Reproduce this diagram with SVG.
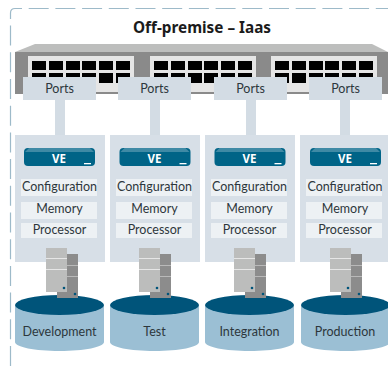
<svg xmlns="http://www.w3.org/2000/svg" width="388" height="366" viewBox="0 0 388 366">
<style>
text{font-family:Lato,"Noto Sans","Liberation Sans",sans-serif;fill:#2d373c;text-anchor:middle;font-size:12.5px}
.title{font-family:"Noto Sans","Liberation Sans",sans-serif;font-size:15.300px;font-weight:700;fill:#1b1b1b}
.ve{font-family:"Noto Sans","Liberation Sans",sans-serif;font-size:11.500px;font-weight:700;fill:#fff}
.port{fill:#d3dce4}
.col{fill:#d7dfe7}
.row{fill:#edf1f4}
.blk{fill:#000}
.stem{fill:#d3dce4}
</style>
<defs>
<g id="server">
<rect x="46" y="248" width="21" height="44" fill="#bcbdbc"/>
<rect x="67" y="254" width="11" height="44" fill="#8c8c8c"/>
<rect x="57" y="292" width="21" height="6" fill="#8c8c8c"/>
<path d="M46 258.500H67M46 269.500H67" stroke="#e6e6e6" fill="none"/>
<path d="M67 265.500H78M67 276.500H78" stroke="#b9b9b9" fill="none"/>
<circle cx="64" cy="288" r="1.300" fill="#00547a"/>
<circle cx="75" cy="294" r="1.300" fill="#00547a"/>
</g>
<g id="cyl">
<path d="M15 305V342C15 347 35 351 59.500 351S104 347 104 342V305Z" fill="#9bbfd4"/>
<ellipse cx="59.500" cy="305" rx="44.500" ry="10" fill="#00547a"/>
</g>
<g id="vebar">
<path d="M24 152Q24 148 28 148H91Q95 148 95 152V162Q95 166 91 166H28Q24 166 24 162Z" fill="#006487"/>
<path d="M25 152L29 148H90L94 152Z" fill="#3f8aa5"/>
<rect x="84" y="163" width="7" height="1.300" fill="#fff"/>
</g>
<g id="rows">
<rect class="row" x="21" y="179" width="76" height="17"/>
<rect class="row" x="21" y="202" width="76" height="17"/>
<rect class="row" x="21" y="223" width="76" height="15"/>
</g>
<g id="sq">
<rect class="blk" x="0" y="61" width="14" height="9"/><rect class="blk" x="17" y="61" width="14" height="9"/><rect class="blk" x="34" y="61" width="14" height="9"/><rect class="blk" x="50" y="61" width="14" height="9"/><rect class="blk" x="67" y="61" width="14" height="9"/><rect class="blk" x="84" y="61" width="14" height="9"/>
<rect class="blk" x="0" y="73" width="14" height="10"/><rect class="blk" x="17" y="73" width="14" height="10"/><rect class="blk" x="34" y="73" width="14" height="10"/><rect class="blk" x="50" y="73" width="14" height="10"/><rect class="blk" x="67" y="73" width="14" height="10"/><rect class="blk" x="84" y="73" width="14" height="10"/>
</g>
</defs>
<path id="boundary" d="M10.500 366V13Q10.500 8.500 15 8.500H388" fill="none" stroke="#9dbac9" stroke-width="1.200" stroke-dasharray="20 6.700"/>
<text class="title" x="202" y="33">Off-premise – Iaas</text>
<g id="switch">
<path d="M15 52L35 44H372L388 52Z" fill="#bdbebd"/>
<rect x="15" y="52" width="373" height="42" fill="#8a8a8a"/>
<rect x="28" y="56" width="106" height="36" fill="#e5e5e5"/>
<rect x="150" y="56" width="106" height="36" fill="#e5e5e5"/>
<rect x="271" y="56" width="106" height="36" fill="#e5e5e5"/>
<use href="#sq" x="32"/><use href="#sq" x="154"/><use href="#sq" x="275"/>
</g>
<g id="connectors">
<rect class="stem" x="55" y="100" width="10" height="35"/>
<rect class="stem" x="150" y="100" width="10" height="35"/>
<rect class="stem" x="246" y="100" width="10" height="35"/>
<rect class="stem" x="340" y="100" width="10" height="35"/>
</g>
<g id="ports1"><rect class="port" x="23" y="77" width="73" height="23"/><text x="59.500" y="93">Ports</text></g>
<g id="ports2"><rect class="port" x="118" y="77" width="73" height="23"/><text x="154.500" y="93">Ports</text></g>
<g id="ports3"><rect class="port" x="214" y="77" width="73" height="23"/><text x="250.500" y="93">Ports</text></g>
<g id="ports4"><rect class="port" x="309" y="77" width="73" height="23"/><text x="345.500" y="93">Ports</text></g>
<g id="col1"><rect class="col" x="15" y="135" width="90" height="127"/><use href="#vebar"/><use href="#rows"/>
<text class="ve" x="59" y="163">VE</text><text x="59.500" y="190.500">Configuration</text><text x="59.500" y="213">Memory</text><text x="59.500" y="234">Processor</text>
<use href="#cyl"/><use href="#server"/><text x="59.500" y="336">Development</text></g>
<g id="col2"><rect class="col" x="110" y="135" width="90" height="127"/><use href="#vebar" x="95.500"/><use href="#rows" x="95"/>
<text class="ve" x="154.500" y="163">VE</text><text x="154.500" y="190.500">Configuration</text><text x="154.500" y="213">Memory</text><text x="154.500" y="234">Processor</text>
<use href="#cyl" x="95"/><use href="#server" x="93"/><text x="154.500" y="336">Test</text></g>
<g id="col3"><rect class="col" x="205" y="135" width="90" height="127"/><use href="#vebar" x="190.500"/><use href="#rows" x="190"/>
<text class="ve" x="249.500" y="163">VE</text><text x="249.500" y="190.500">Configuration</text><text x="249.500" y="213">Memory</text><text x="249.500" y="234">Processor</text>
<use href="#cyl" x="190"/><use href="#server" x="188"/><text x="249.500" y="336">Integration</text></g>
<g id="col4"><rect class="col" x="300" y="135" width="88" height="127"/><use href="#vebar" x="286"/><use href="#rows" x="285"/>
<text class="ve" x="345" y="163">VE</text><text x="345" y="190.500">Configuration</text><text x="345" y="213">Memory</text><text x="345" y="234">Processor</text>
<use href="#cyl" x="286"/><use href="#server" x="284"/><text x="345" y="336">Production</text></g>
</svg>
